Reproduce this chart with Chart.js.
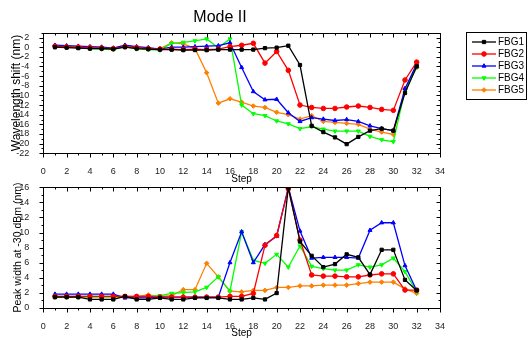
<!DOCTYPE html>
<html lang="en">
<head>
  <meta charset="UTF-8">
  <title>Mode II</title>
  <script src="https://cdn.jsdelivr.net/npm/chart.js"></script>
  <style>
    body { margin: 0; background: #fff; }
    .wrap { position: relative; width: 528px; height: 340px; }
    .wrap canvas { position: absolute; left: 0; }
    #shiftChart { top: 0; }
    #widthChart { top: 176px; }
  </style>
</head>
<body>
<div class="wrap">
  <canvas id="shiftChart" width="528" height="188"></canvas>
  <canvas id="widthChart" width="528" height="164"></canvas>
</div>

<script>
  // steps on the x axis
  var steps = [1, 2, 3, 4, 5, 6, 7, 8, 9, 10, 11, 12, 13, 14, 15, 16,
               17, 18, 19, 20, 21, 22, 23, 24, 25, 26, 27, 28, 29, 30, 31, 32];
  var seriesNames = ['FBG1', 'FBG2', 'FBG3', 'FBG4', 'FBG5'];

  // wavelength shift (nm), top panel
  var shiftFBG1 = [0, -0.1, -0.2, -0.3, -0.3, -0.4, 0, -0.3, -0.4, -0.5, -0.5, -0.6, -0.6, -0.6, -0.5, -0.5,
                   -0.5, -0.5, -0.2, -0.1, 0.3, -3.7, -16.3, -17.6, -18.7, -20.1, -18.6, -17.3, -16.9, -17.3, -9.5, -4.0];
  var shiftFBG2 = [0.2, 0.1, 0, -0.1, -0.2, -0.3, 0.1, -0.1, -0.3, -0.4, -0.4, -0.5, -0.4, -0.5, -0.4, 0.1,
                   0.4, 0.8, -3.3, -0.9, -4.8, -12.0, -12.5, -12.7, -12.7, -12.4, -12.2, -12.5, -12.9, -13.1, -6.8, -3.1];
  var shiftFBG3 = [0.4, 0.3, 0.2, 0.1, 0, -0.2, 0.4, 0.1, -0.1, -0.4, 0, 0, 0.1, 0.2, 0.3, 0.9,
                   -4.2, -9.2, -10.9, -10.8, -13.6, -15.4, -14.6, -14.9, -15.2, -15.0, -15.4, -16.3, -16.9, -17.3, -8.6, -3.5];
  var shiftFBG4 = [0, 0, -0.1, -0.3, -0.4, -0.5, 0.1, -0.35, -0.5, -0.6, 0.8, 1.0, 1.3, 1.7, -0.1, 1.7,
                   -12.0, -13.8, -14.2, -15.3, -15.9, -16.9, -16.5, -17.0, -17.4, -17.4, -17.4, -18.5, -19.2, -19.6, -8.9, -4.2];
  var shiftFBG5 = [0.3, 0.1, 0, -0.1, 0, -0.2, 0.3, 0, -0.3, -0.3, 0.9, 0.7, -0.3, -5.3, -11.6, -10.7,
                   -11.4, -12.2, -12.5, -13.5, -14.0, -14.9, -14.2, -15.4, -15.6, -15.8, -16.0, -17.0, -17.6, -18.1, -8.6, -4.2];

  // peak width at -30 dBm (nm), bottom panel
  var widthFBG1 = [1.4, 1.4, 1.4, 1.1, 1.1, 1.1, 1.5, 1.1, 1.1, 1.3, 1.1, 1.1, 1.3, 1.3, 1.3, 1.1,
                   1.1, 1.3, 1.1, 1.95, 16, 8.8, 6.9, 5.4, 5.8, 7.1, 6.7, 4.4, 7.7, 7.7, 3.7, 2.3];
  var widthFBG2 = [1.5, 1.5, 1.5, 1.5, 1.5, 1.5, 1.5, 1.5, 1.5, 1.4, 1.4, 1.4, 1.4, 1.4, 1.4, 1.5,
                   1.5, 1.9, 8.3, 9.6, 15.8, 9.0, 4.35, 4.2, 4.2, 4.1, 4.1, 4.35, 4.5, 4.5, 2.35, 2.35];
  var widthFBG3 = [1.8, 1.8, 1.8, 1.8, 1.8, 1.8, 1.3, 1.3, 1.3, 1.4, 1.4, 1.4, 1.4, 1.4, 1.4, 6.0,
                   10.1, 6.0, 8.4, 9.5, 16, 10.2, 6.6, 6.7, 6.7, 6.7, 6.6, 10.3, 11.3, 11.3, 5.6, 2.3];
  var widthFBG4 = [1.4, 1.4, 1.4, 1.4, 1.4, 1.4, 1.4, 1.4, 1.5, 1.6, 1.9, 2.0, 2.1, 2.7, 4.1, 2.2,
                   10.1, 6.3, 5.9, 7.1, 5.4, 8.2, 5.5, 5.2, 5.0, 5.0, 5.7, 5.4, 5.7, 6.6, 4.8, 2.1];
  var widthFBG5 = [1.5, 1.5, 1.5, 1.5, 1.5, 1.5, 1.5, 1.5, 1.7, 1.5, 1.6, 2.4, 2.4, 5.9, 4.1, 2.2,
                   2.1, 2.3, 2.3, 2.7, 2.7, 2.9, 2.9, 3.0, 3.0, 3.0, 3.2, 3.4, 3.4, 3.4, 2.5, 1.9];

  var colors = ['#000000', '#ff0000', '#0000ff', '#00ff00', '#ff8000'];
  var markers = ['rect', 'circle', 'triangle', 'triangle', 'rectRot'];
  var markerRot = [0, 0, 0, 180, 0];

  Chart.defaults.font.family = '"Liberation Sans", Arial, sans-serif';
  Chart.defaults.color = '#000';

  function makeDatasets(series) {
    return series.map(function (vals, i) {
      return {
        label: seriesNames[i],
        data: steps.map(function (s, k) { return { x: s, y: vals[k] }; }),
        borderColor: colors[i],
        backgroundColor: colors[i],
        borderWidth: 1.3,
        pointStyle: markers[i],
        rotation: markerRot[i],
        pointRadius: 2.3,
        pointBorderWidth: 1,
        tension: 0
      };
    });
  }

  // box around the plot with Origin-like major/minor ticks
  var frameTicks = {
    id: 'frameTicks',
    afterDatasetsDraw: function (chart) {
      var ctx = chart.ctx, a = chart.chartArea;
      var xs = chart.scales.x, ys = chart.scales.y;
      ctx.save();
      ctx.strokeStyle = '#000';
      ctx.lineWidth = 1;
      var L = Math.round(a.left) + 0.5, R = Math.round(a.right) + 0.5;
      var T = Math.round(a.top) + 0.5, B = Math.round(a.bottom) + 0.5;
      ctx.strokeRect(L, T, R - L, B - T);
      ctx.beginPath();
      for (var v = xs.min; v <= xs.max; v += 1) {
        var px = Math.round(xs.getPixelForValue(v)) + 0.5;
        var len = v % 2 === 0 ? 4 : 2;
        ctx.moveTo(px, B); ctx.lineTo(px, B + len);
        ctx.moveTo(px, T); ctx.lineTo(px, T + len);
      }
      for (var w = Math.ceil(ys.min); w <= ys.max; w += 1) {
        var py = Math.round(ys.getPixelForValue(w)) + 0.5;
        var ln = w % 2 === 0 ? 4 : 2;
        ctx.moveTo(L, py); ctx.lineTo(L - ln, py);
        ctx.moveTo(R, py); ctx.lineTo(R - ln, py);
      }
      ctx.stroke();
      ctx.restore();
    }
  };

  // legend box at the right of the top panel
  var sideLegend = {
    id: 'sideLegend',
    afterDraw: function (chart) {
      var ctx = chart.ctx;
      ctx.save();
      ctx.strokeStyle = '#000';
      ctx.lineWidth = 1;
      ctx.strokeRect(466.5, 32.5, 60, 67);
      ctx.font = '10px "Liberation Sans", Arial, sans-serif';
      ctx.textBaseline = 'middle';
      chart.data.datasets.forEach(function (ds, i) {
        var y = 42 + i * 12;
        ctx.strokeStyle = ds.borderColor;
        ctx.fillStyle = ds.backgroundColor;
        ctx.lineWidth = 1.3;
        ctx.beginPath();
        ctx.moveTo(472, y); ctx.lineTo(496, y);
        ctx.stroke();
        ctx.lineWidth = 1;
        Chart.helpers.drawPoint(ctx, { pointStyle: ds.pointStyle, rotation: ds.rotation, radius: 2.3, borderWidth: 1 }, 484, y);
        ctx.fillStyle = '#000';
        ctx.fillText(ds.label, 498, y + 0.5);
      });
      ctx.restore();
    }
  };

  function xAxis(h, titlePadBottom) {
    return {
      type: 'linear',
      min: 0,
      max: 34,
      grid: { display: false },
      border: { display: false },
      ticks: { stepSize: 2, autoSkip: false, padding: 5, font: { size: 9 }, color: '#222', maxRotation: 0 },
      title: { display: true, text: 'Step', font: { size: 10 }, padding: { top: 0, bottom: titlePadBottom } },
      afterFit: function (s) { s.height = h; }
    };
  }

  // top panel: wavelength shift
  new Chart(document.getElementById('shiftChart'), {
    type: 'line',
    data: { datasets: makeDatasets([shiftFBG1, shiftFBG2, shiftFBG3, shiftFBG4, shiftFBG5]) },
    options: {
      responsive: false,
      animation: false,
      layout: { padding: { left: 0, right: 88, top: 0, bottom: 0 } },
      plugins: {
        legend: { display: false },
        tooltip: { enabled: false },
        title: {
          display: true,
          text: 'Mode II',
          font: { size: 16, weight: 'normal' },
          padding: { top: 8, bottom: 5.5 }
        }
      },
      scales: {
        x: xAxis(34.7, 3),
        y: {
          min: -22,
          max: 3,
          grid: { display: false },
          border: { display: false },
          ticks: { stepSize: 2, includeBounds: false, autoSkip: false, padding: 6, font: { size: 9 }, color: '#222' },
          title: { display: true, text: 'Wavelength shift (nm)', font: { size: 12 }, padding: { top: 9, bottom: 0 } },
          afterFit: function (s) { s.width = 43.3; }
        }
      }
    },
    plugins: [frameTicks, sideLegend]
  });

  // bottom panel: peak width
  new Chart(document.getElementById('widthChart'), {
    type: 'line',
    data: { datasets: makeDatasets([widthFBG1, widthFBG2, widthFBG3, widthFBG4, widthFBG5]) },
    options: {
      responsive: false,
      animation: false,
      layout: { padding: { left: 0, right: 88, top: 11, bottom: 0 } },
      plugins: {
        legend: { display: false },
        tooltip: { enabled: false }
      },
      scales: {
        x: xAxis(32.3, 1),
        y: {
          min: 0,
          max: 16,
          grid: { display: false },
          border: { display: false },
          ticks: { stepSize: 2, autoSkip: false, padding: 6, font: { size: 9 }, color: '#222' },
          title: { display: true, text: 'Peak width at -30 dBm (nm)', font: { size: 10.5 }, padding: { top: 11.5, bottom: 0 } },
          afterFit: function (s) { s.width = 43.3; }
        }
      }
    },
    plugins: [frameTicks]
  });
</script>
</body>
</html>
